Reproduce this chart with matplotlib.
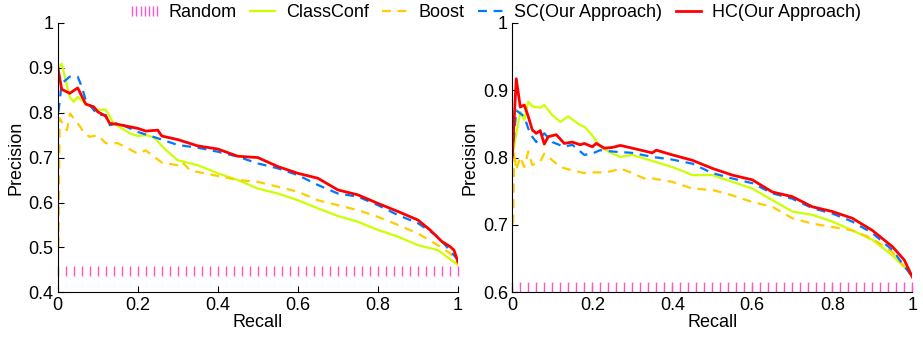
#!/usr/bin/env python3

import numpy as np
import matplotlib
matplotlib.use("Agg")
import matplotlib.pyplot as plt
from matplotlib.ticker import FuncFormatter

# -------------------------
# DATA
# -------------------------

# left panel
hc_l_x = [0, 0.01, 0.03, 0.05, 0.07, 0.09, 0.1, 0.12, 0.13, 0.15, 0.2, 0.22, 0.25, 0.26, 0.3,
          0.35, 0.4, 0.45, 0.5, 0.55, 0.6, 0.65, 0.7, 0.75, 0.8, 0.85, 0.9, 0.93, 0.96, 0.98, 0.99, 1.0]
hc_l_y = [0.902, 0.852, 0.843, 0.855, 0.819, 0.813, 0.802, 0.792, 0.776, 0.774, 0.765, 0.759, 0.761, 0.748, 0.740,
          0.726, 0.719, 0.703, 0.700, 0.680, 0.665, 0.654, 0.628, 0.617, 0.598, 0.580, 0.561, 0.539, 0.513, 0.502, 0.494, 0.468]

sc_l_x = [0.002, 0.01, 0.03, 0.05, 0.06, 0.07, 0.1, 0.12, 0.13, 0.15, 0.2, 0.25, 0.3, 0.35, 0.4,
          0.45, 0.5, 0.55, 0.6, 0.65, 0.7, 0.75, 0.8, 0.85, 0.9, 0.95, 1.0]
sc_l_y = [0.802, 0.865, 0.880, 0.880, 0.858, 0.828, 0.795, 0.795, 0.772, 0.777, 0.757, 0.743, 0.728, 0.722, 0.713,
          0.702, 0.687, 0.676, 0.661, 0.639, 0.620, 0.613, 0.594, 0.572, 0.554, 0.524, 0.472]

cc_l_x = [0, 0.01, 0.03, 0.04, 0.05, 0.07, 0.1, 0.12, 0.14, 0.18, 0.2, 0.22, 0.24, 0.27, 0.3,
          0.35, 0.4, 0.45, 0.5, 0.55, 0.6, 0.65, 0.7, 0.75, 0.8, 0.85, 0.9, 0.95, 1.0]
cc_l_y = [0.900, 0.909, 0.835, 0.824, 0.835, 0.820, 0.806, 0.807, 0.776, 0.754, 0.748, 0.750, 0.745, 0.717, 0.694,
          0.683, 0.665, 0.650, 0.631, 0.620, 0.605, 0.587, 0.570, 0.557, 0.539, 0.524, 0.505, 0.494, 0.461]

bo_l_x = [0.002, 0.005, 0.023, 0.031, 0.056, 0.064, 0.08, 0.1, 0.12, 0.15, 0.2, 0.22, 0.26, 0.3, 0.31,
          0.33, 0.35, 0.4, 0.45, 0.5, 0.55, 0.6, 0.65, 0.7, 0.75, 0.8, 0.85, 0.9, 0.95, 0.98, 1.0]
bo_l_y = [0.502, 0.787, 0.761, 0.798, 0.769, 0.757, 0.746, 0.750, 0.732, 0.732, 0.709, 0.716, 0.689, 0.683, 0.691,
          0.672, 0.668, 0.659, 0.650, 0.646, 0.635, 0.624, 0.605, 0.594, 0.583, 0.568, 0.550, 0.531, 0.505, 0.487, 0.465]

rand_l = 0.448

# right panel
hc_r_x = [0, 0.01, 0.02, 0.03, 0.04, 0.05, 0.06, 0.07, 0.08, 0.09, 0.11, 0.13, 0.15, 0.17, 0.18,
          0.2, 0.21, 0.23, 0.25, 0.27, 0.3, 0.35, 0.36, 0.4, 0.45, 0.5, 0.55, 0.6, 0.65, 0.7,
          0.75, 0.8, 0.85, 0.9, 0.95, 0.98, 1.0]
hc_r_y = [0.801, 0.917, 0.875, 0.878, 0.861, 0.841, 0.836, 0.840, 0.820, 0.831, 0.834, 0.821, 0.823, 0.819, 0.821,
          0.816, 0.821, 0.814, 0.815, 0.818, 0.814, 0.807, 0.811, 0.804, 0.796, 0.784, 0.774, 0.767, 0.749, 0.742,
          0.727, 0.720, 0.710, 0.692, 0.668, 0.648, 0.623]

sc_r_x = [0, 0.01, 0.03, 0.04, 0.05, 0.06, 0.08, 0.1, 0.13, 0.15, 0.18, 0.2, 0.22, 0.25, 0.3,
          0.35, 0.4, 0.45, 0.5, 0.55, 0.6, 0.65, 0.7, 0.75, 0.8, 0.85, 0.9, 0.95, 1.0]
sc_r_y = [0.801, 0.870, 0.861, 0.843, 0.831, 0.823, 0.836, 0.823, 0.816, 0.819, 0.804, 0.806, 0.811, 0.809, 0.807,
          0.801, 0.797, 0.791, 0.777, 0.769, 0.762, 0.747, 0.739, 0.725, 0.717, 0.705, 0.688, 0.663, 0.623]

cc_r_x = [0, 0.02, 0.03, 0.04, 0.05, 0.07, 0.08, 0.1, 0.12, 0.14, 0.17, 0.18, 0.2, 0.22, 0.25,
          0.27, 0.3, 0.35, 0.4, 0.43, 0.45, 0.5, 0.55, 0.6, 0.65, 0.7, 0.75, 0.8, 0.85, 0.9,
          0.95, 1.0]
cc_r_y = [0.801, 0.868, 0.856, 0.883, 0.876, 0.874, 0.878, 0.863, 0.853, 0.861, 0.848, 0.846, 0.833, 0.816, 0.806,
          0.801, 0.804, 0.795, 0.786, 0.779, 0.774, 0.774, 0.764, 0.754, 0.737, 0.720, 0.715, 0.705, 0.692, 0.678,
          0.655, 0.626]

bo_r_x = [0.002, 0.005, 0.01, 0.02, 0.03, 0.04, 0.05, 0.07, 0.08, 0.1, 0.12, 0.15, 0.18, 0.2, 0.23,
          0.25, 0.27, 0.3, 0.33, 0.35, 0.4, 0.45, 0.5, 0.55, 0.6, 0.65, 0.7, 0.75, 0.8, 0.85,
          0.9, 0.95, 1.0]
bo_r_y = [0.702, 0.809, 0.781, 0.801, 0.786, 0.809, 0.789, 0.794, 0.806, 0.796, 0.786, 0.781, 0.777, 0.778, 0.778,
          0.780, 0.784, 0.777, 0.769, 0.769, 0.764, 0.754, 0.752, 0.744, 0.734, 0.727, 0.710, 0.702, 0.697, 0.692,
          0.680, 0.660, 0.623]

rand_r = 0.608

labels = ["Random", "ClassConf", "Boost", "SC(Our Approach)", "HC(Our Approach)"]

# -------------------------
# STYLE
# -------------------------

plt.rcParams["font.family"] = ["Liberation Sans", "DejaVu Sans"]
plt.rcParams["font.size"] = 13

C_RAND = "#ff55cc"
C_CC = "#ccff00"
C_BO = "#ffcc00"
C_SC = "#0077ff"
C_HC = "#ff0000"


def draw(ax, hc, sc, cc, bo, rnd, ylim, yticks):
    rx = np.linspace(0, 1, 51)
    ax.plot(rx, [rnd] * len(rx), linestyle="none", marker="|", markersize=6.5,
            markeredgewidth=1.0, color=C_RAND, label=labels[0], clip_on=False)
    ax.plot(cc[0], cc[1], color=C_CC, lw=1.6, label=labels[1])
    ax.plot(bo[0], bo[1], color=C_BO, lw=1.6, dashes=(4, 3), label=labels[2])
    ax.plot(sc[0], sc[1], color=C_SC, lw=1.6, dashes=(4, 3), label=labels[3])
    ax.plot(hc[0], hc[1], color=C_HC, lw=2.0, label=labels[4])

    ax.set_xlim(0, 1)
    ax.set_ylim(*ylim)
    ax.set_xticks([0, 0.2, 0.4, 0.6, 0.8, 1])
    ax.set_yticks(yticks)
    fmt = FuncFormatter(lambda v, p: f"{v:g}")
    ax.xaxis.set_major_formatter(fmt)
    ax.yaxis.set_major_formatter(fmt)
    ax.tick_params(direction="in", length=4, width=0.8, pad=3)
    ax.spines["top"].set_visible(False)
    ax.spines["right"].set_visible(False)
    ax.set_xlabel("Recall", labelpad=0)
    ax.set_ylabel("Precision", labelpad=3)


fig = plt.figure(figsize=(9.23, 3.38), dpi=100)
ax1 = fig.add_axes([0.0625, 0.135, 0.4337, 0.7976])
ax2 = fig.add_axes([0.555, 0.135, 0.4334, 0.7976])

draw(ax1, (hc_l_x, hc_l_y), (sc_l_x, sc_l_y), (cc_l_x, cc_l_y), (bo_l_x, bo_l_y),
     rand_l, (0.4, 1.0), [0.4, 0.5, 0.6, 0.7, 0.8, 0.9, 1.0])
draw(ax2, (hc_r_x, hc_r_y), (sc_r_x, sc_r_y), (cc_r_x, cc_r_y), (bo_r_x, bo_r_y),
     rand_r, (0.6, 1.0), [0.6, 0.7, 0.8, 0.9, 1.0])

handles, labs = ax1.get_legend_handles_labels()
fig.legend(handles, labs, loc="center", bbox_to_anchor=(0.535, 0.962), ncol=5,
           frameon=False, numpoints=7, handlelength=2.0, handletextpad=0.3,
           columnspacing=0.45, borderpad=0.1)

fig.savefig("out.png", dpi=100)
